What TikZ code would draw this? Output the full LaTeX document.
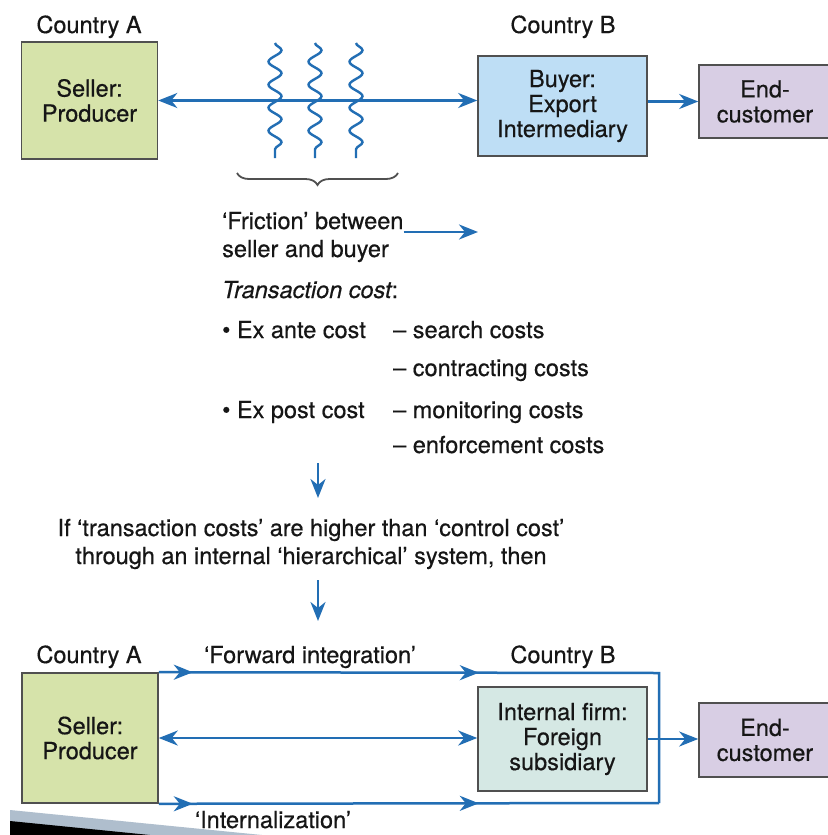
\documentclass[tikz,border=0pt]{standalone}
\usepackage{fontspec}
\setmainfont{TeX Gyre Heros}[FakeBold=0.5]
\usetikzlibrary{arrows.meta,decorations.pathmorphing,decorations.pathreplacing,decorations.markings}
\definecolor{ablue}{RGB}{34,110,180}
\definecolor{txt}{RGB}{22,22,22}
\definecolor{boxgray}{RGB}{80,80,80}
\definecolor{sgreen}{RGB}{214,227,170}
\definecolor{bblue}{RGB}{190,222,245}
\definecolor{lav}{RGB}{216,206,228}
\definecolor{ifirm}{RGB}{213,232,228}
\definecolor{wedgegray}{RGB}{175,190,205}
\tikzset{
  box/.style={draw=boxgray, line width=1.6pt, align=center, inner sep=0pt, text=txt,
    font=\fontsize{23.5}{25}\selectfont},
  lbl/.style={text=txt, inner sep=0pt, font=\fontsize{23.5}{28}\selectfont},
  bline/.style={draw=ablue, line width=2.5pt},
  barrow/.style={bline, -{Stealth[length=19pt,width=15pt,inset=6pt]}},
  bdouble/.style={bline, {Stealth[length=19pt,width=15pt,inset=6pt]}-{Stealth[length=19pt,width=15pt,inset=6pt]}},
  midtips/.style={postaction={decorate, decoration={markings,
     mark=at position 34pt with {\arrow[ablue]{Stealth[length=19pt,width=15pt,inset=6pt]}},
     mark=at position 320pt with {\arrow[ablue]{Stealth[length=19pt,width=15pt,inset=6pt]}}}}},
  wave/.style={draw=ablue, line width=2.4pt, decorate,
     decoration={snake, segment length=23pt, amplitude=6.5pt}},
}
\begin{document}
\begin{tikzpicture}[x=1pt,y=-1pt]
\useasboundingbox (0,0) rectangle (827,835);
\fill[white] (0,0) rectangle (827,835);

% ---------- top part ----------
\node[lbl, anchor=base] (ca1) at (89,33) {Country A};
\node[lbl, anchor=base] (cb1) at (563,33) {Country B};

\node[box, fill=sgreen, minimum width=136pt, minimum height=117pt] (s1) at (89.5,100.5) {Seller:\\Producer};
\node[box, fill=bblue, minimum width=169pt, minimum height=100pt] (b1) at (562.5,106) {Buyer:\\Export\\Intermediary};
\node[box, fill=lav, minimum width=132pt, minimum height=73pt] (e1) at (765,101.5) {End-\\customer};

\draw[bdouble] (s1.east) -- (s1.east -| b1.west);
\draw[barrow] (b1.east |- e1.west) -- (e1.west);

\draw[wave] (275,43) -- (275,158);
\draw[wave] (315,43) -- (315,158);
\draw[wave] (356,43) -- (356,158);

\draw[boxgray, line width=1.8pt, decorate, decoration={brace, amplitude=12pt, mirror}] (237,173) -- (398,173);

\node[lbl, anchor=base west] (fr1) at (222,229) {‘Friction’ between};
\node[lbl, anchor=base west] (fr2) at (222,257) {seller and buyer};
\coordinate (frend) at (478,232);
\draw[barrow] (fr1.base east |- frend) -- (frend);

\node[lbl, anchor=base west] (tc) at (222,298) {\itshape Transaction cost\upshape:};
\node[lbl, anchor=base west] (exa) at (222,338) {\textbullet\ Ex ante cost};
\node[lbl, anchor=base west] (sc) at (393,338) {– search costs};
\node[lbl, anchor=base west] (cc) at (393,376) {– contracting costs};
\node[lbl, anchor=base west] (exp) at (222,418) {\textbullet\ Ex post cost};
\node[lbl, anchor=base west] (mc) at (393,418) {– monitoring costs};
\node[lbl, anchor=base west] (ec) at (393,453) {– enforcement costs};

\coordinate (d1s) at (318,463);
\coordinate (d1e) at (318,498);
\draw[barrow] (d1s) -- (d1e);

\node[lbl, anchor=base] (if1) at (311,536) {If ‘transaction costs’ are higher than ‘control cost’};
\node[lbl, anchor=base] (if2) at (311,564) {through an internal ‘hierarchical’ system, then};

\coordinate (d2s) at (318,580);
\coordinate (d2e) at (318,621);
\draw[barrow] (d2s) -- (d2e);

% ---------- bottom part ----------
\node[lbl, anchor=base] (ca2) at (89,663) {Country A};
\node[lbl, anchor=base] (fi) at (310,663) {‘Forward integration’};
\node[lbl, anchor=base] (cb2) at (563,663) {Country B};

\node[box, fill=sgreen, minimum width=136pt, minimum height=130pt] (s2) at (90,738) {Seller:\\Producer};
\node[box, fill=ifirm, minimum width=169pt, minimum height=104pt] (f2) at (562.5,739) {Internal firm:\\Foreign\\subsidiary};
\node[box, fill=lav, minimum width=132pt, minimum height=74pt] (e2) at (765,740) {End-\\customer};

\coordinate (tr) at (659,673);
\coordinate (br) at (659,803);
\draw[bline, line join=miter, midtips] (s2.north east) -- (tr) -- (br);
\draw[bline, midtips] (s2.south east) -- (br);
\draw[bdouble] (s2.east) -- (s2.east -| f2.west);
\draw[barrow] (f2.east) -- (f2.east -| e2.west);

\node[lbl, anchor=base] (int) at (273,828) {‘Internalization’};

% decorative slide wedge
\fill[wedgegray] (10,810) -- (262,835) -- (10,835) -- cycle;
\fill[black] (10,821) -- (150,835) -- (10,835) -- cycle;
\end{tikzpicture}
\end{document}
